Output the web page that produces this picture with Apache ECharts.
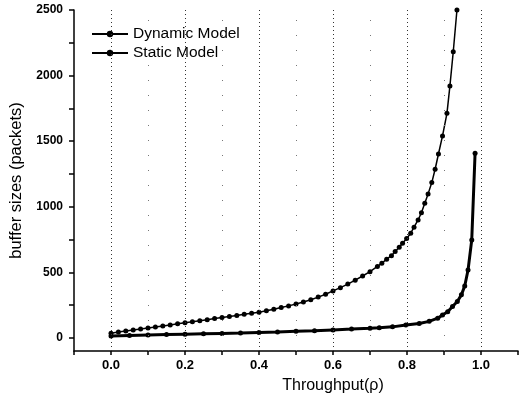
<!DOCTYPE html>
<html>
<head>
<meta charset="utf-8">
<script src="https://cdn.jsdelivr.net/npm/echarts@6/dist/echarts.min.js"></script>
<style>html,body{margin:0;padding:0;background:#fff}#c{width:519px;height:399px}</style>
</head>
<body>
<div id="c"></div>
<script>
var staticX = [0.00,0.02,0.04,0.06,0.08,0.10,0.12,0.14,0.16,0.18,0.20,0.22,0.24,0.26,0.28,0.30,0.32,0.34,0.36,0.38,0.40,0.42,0.44,0.46,0.48,0.50,0.52,0.54,0.56,0.58,0.60,0.62,0.64,0.66,0.68,0.70,0.72,0.732,0.745,0.758,0.768,0.779,0.788,0.799,0.810,0.819,0.830,0.839,0.848,0.857,0.867,0.876,0.885,0.896,0.908,0.916,0.925,0.935];
var staticY = [36,44,52,60,68,75,83,91,99,107,115,123,131,139,147,155,163,171,180,188,196,207,219,231,244,258,274,291,311,333,358,383,410,440,472,505,545,569,600,627,658,691,722,757,798,844,899,955,1027,1098,1184,1286,1402,1540,1712,1921,2182,2500];
var dynX = [0.00,0.05,0.10,0.15,0.20,0.25,0.30,0.35,0.40,0.45,0.50,0.55,0.60,0.65,0.70,0.725,0.761,0.797,0.833,0.860,0.883,0.896,0.910,0.923,0.936,0.947,0.956,0.965,0.975,0.984];
var dynY = [15,19,22,25,28,31,34,37,41,45,50,55,61,67,74,78,84,98,110,126,150,175,200,239,277,328,396,518,747,1408];
var xMajorLines = [0.0,0.2,0.4,0.6,0.8,1.0];
var xMinorLines = [0.1,0.3,0.5,0.7,0.9];
var yLabelValues = [0,500,1000,1500,2000,2500];
var yTickValues = [0,250,500,750,1000,1250,1500,1750,2000,2250,2500];
var xLabelValues = [0.0,0.2,0.4,0.6,0.8,1.0];
var xTickValues = [-0.1,0.0,0.1,0.2,0.3,0.4,0.5,0.6,0.7,0.8,0.9,1.0,1.1];

function zip(a,b){return a.map(function(v,i){return [v,b[i]];});}
var font = '"Liberation Sans", Arial, sans-serif';
var chart = echarts.init(document.getElementById('c'), null, {renderer:'canvas'});
var mlData = xMajorLines.map(function(v){return {xAxis:v, lineStyle:{color:'#333', type:[1,3], width:1}};})
  .concat(xMinorLines.map(function(v){return {xAxis:v, lineStyle:{color:'#777', type:[1,14], width:1}};}));
chart.setOption({
  animation:false,
  backgroundColor:'#fff',
  grid:{left:74,right:1,top:10,bottom:47,containLabel:false},
  legend:{
    orient:'vertical', left:86, top:21, itemGap:3, itemWidth:36, itemHeight:8,
    textStyle:{fontFamily:font,fontSize:15.5,color:'#000'},
    data:['Dynamic Model','Static Model']
  },
  xAxis:{
    type:'value', min:-0.1, max:1.1,
    name:'Throughput(ρ)', nameLocation:'middle', nameGap:27,
    nameTextStyle:{fontFamily:font,fontSize:16,color:'#000',padding:[0,0,0,74]},
    axisLine:{onZero:false,lineStyle:{color:'#000',width:1.5}},
    axisTick:{show:true,length:4,lineStyle:{color:'#000',width:1.5},customValues:xTickValues},
    axisLabel:{fontFamily:font,fontSize:13,fontWeight:'bold',color:'#000',margin:8,
      customValues:xLabelValues, formatter:function(v){return v.toFixed(1);}},
    splitLine:{show:false}
  },
  yAxis:{
    type:'value', min:-100, max:2500,
    name:'buffer sizes (packets)', nameLocation:'middle', nameGap:45,
    nameTextStyle:{fontFamily:font,fontSize:16.5,color:'#000'},
    axisLine:{onZero:false,lineStyle:{color:'#000',width:1.5}},
    axisTick:{show:true,length:5,lineStyle:{color:'#000',width:1.5},customValues:yTickValues},
    axisLabel:{fontFamily:font,fontSize:12,fontWeight:'bold',color:'#000',margin:11,
      customValues:yLabelValues, formatter:function(v){return String(v);}},
    splitLine:{show:false}
  },
  series:[
    {name:'Dynamic Model', type:'line', data:zip(dynX,dynY), symbol:'circle', symbolSize:5,
     lineStyle:{color:'#000',width:3}, itemStyle:{color:'#000'}, z:3,
     markLine:{silent:true, symbol:'none', label:{show:false}, data:mlData}},
    {name:'Static Model', type:'line', data:zip(staticX,staticY), symbol:'circle', symbolSize:5,
     lineStyle:{color:'#000',width:1.5}, itemStyle:{color:'#000'}, z:3}
  ]
});
</script>
</body>
</html>
